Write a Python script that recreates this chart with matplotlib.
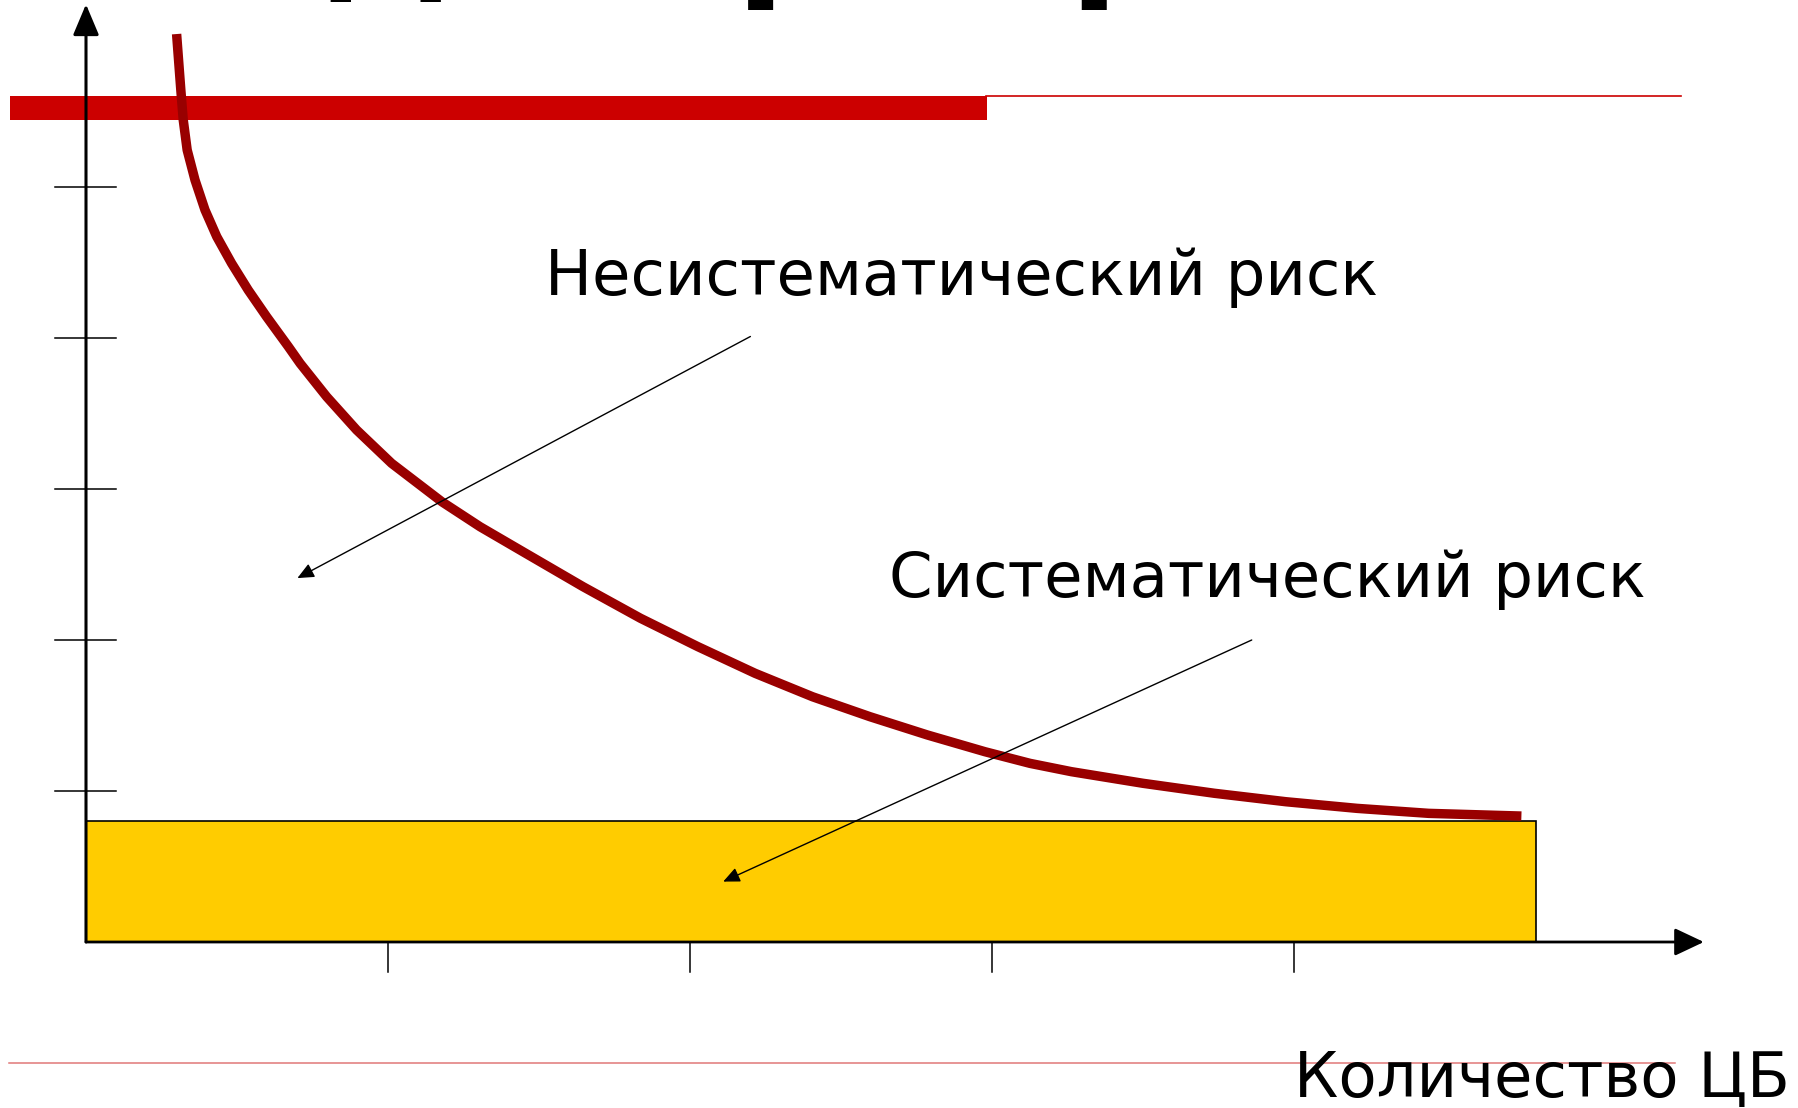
import matplotlib
matplotlib.use("Agg")
import matplotlib.pyplot as plt

# --- data (units = tick spacing on each axis) ---
X_TICKS = [1, 2, 3, 4]
Y_TICKS = [1, 2, 3, 4, 5]

# unsystematic risk curve
CURVE_X = [0.30, 0.314, 0.322, 0.335, 0.361, 0.394, 0.433, 0.482, 0.537,
           0.598, 0.670, 0.709, 0.797, 0.896, 1.012, 1.178, 1.305, 1.456,
           1.646, 1.836, 2.026, 2.216, 2.406, 2.596, 2.786, 2.977, 3.126,
           3.263, 3.500, 3.736, 3.973, 4.209, 4.446, 4.753]
CURVE_Y = [6.013, 5.642, 5.444, 5.245, 5.046, 4.848, 4.671, 4.495, 4.318,
           4.141, 3.943, 3.832, 3.611, 3.391, 3.170, 2.916, 2.750, 2.574,
           2.353, 2.144, 1.956, 1.779, 1.624, 1.492, 1.371, 1.260, 1.183,
           1.128, 1.051, 0.985, 0.929, 0.885, 0.852, 0.834]

# systematic risk block
SYS_WIDTH = 4.8
SYS_HEIGHT = 0.8

LABEL_UNSYS = "Несистематический риск"
LABEL_SYS = "Систематический риск"
LABEL_X = "Количество ЦБ"
TITLE = "Диверсификация"

# arrows: (start, end)
ARROW_UNSYS = ((2.20, 4.01), (0.70, 2.41))
ARROW_SYS = ((3.86, 2.00), (2.11, 0.40))

# --- figure ---
W, H = 1799, 1108
fig = plt.figure(figsize=(W / 100, H / 100), dpi=100)
ax = fig.add_axes([0, 0, 1, 1])
ax.set_xlim(-86 / 302, (W - 86) / 302)
ax.set_ylim(-(H - 942) / 151, 942 / 151)
ax.axis("off")

# cropped slide title (only descenders are visible)
fig.text(321 / W, 1 + 20 / H, TITLE, fontsize=103, fontweight="bold",
         color="black", ha="left", va="baseline")

# slide decoration lines
ax.barh(5.5235, 3.235, height=0.159, left=-0.252, color="#cc0000", zorder=2)
ax.plot([2.98, 5.28], [5.60, 5.60], color="#cc0000", lw=1.2, zorder=2)
ax.plot([-0.255, 5.26], [-0.80, -0.80], color="#e07878", lw=1.1, zorder=1)

# systematic risk block
ax.bar(0, SYS_HEIGHT, width=SYS_WIDTH, align="edge", color="#ffcc00",
       edgecolor="black", lw=1.2, zorder=3)

# curve
ax.plot(CURVE_X, CURVE_Y, color="#990000", lw=6.8, zorder=4,
        solid_capstyle="butt", solid_joinstyle="round")

# axes with arrow heads
ax.annotate("", xy=(0, 6.21), xytext=(0, 0),
            arrowprops=dict(arrowstyle="-|>,head_length=19,head_width=8",
                            mutation_scale=1, lw=2.2, color="black",
                            shrinkA=0, shrinkB=0), zorder=5)
ax.annotate("", xy=(5.357, 0), xytext=(0, 0),
            arrowprops=dict(arrowstyle="-|>,head_length=18,head_width=8.5",
                            mutation_scale=1, lw=2.0, color="black",
                            shrinkA=0, shrinkB=0), zorder=5)

for t in Y_TICKS:
    ax.plot([-0.103, 0.099], [t, t], color="black", lw=1.1, zorder=5)
for t in X_TICKS:
    ax.plot([t, t], [0, -0.2], color="black", lw=1.1, zorder=5)

# pointer arrows
for (start, end) in (ARROW_UNSYS, ARROW_SYS):
    ax.annotate("", xy=end, xytext=start,
                arrowprops=dict(arrowstyle="-|>,head_length=10,head_width=4.5",
                                mutation_scale=1, lw=1.0, color="black",
                                shrinkA=0, shrinkB=0), zorder=6)

# labels
ax.text((545 - 86) / 302, (942 - 295) / 151, LABEL_UNSYS, fontsize=45,
        ha="left", va="baseline", color="black", zorder=7)
ax.text((889 - 86) / 302, (942 - 597) / 151, LABEL_SYS, fontsize=45,
        ha="left", va="baseline", color="black", zorder=7)
ax.text((1294 - 86) / 302, (942 - 1097) / 151, LABEL_X, fontsize=45,
        ha="left", va="baseline", color="black", zorder=7)

fig.savefig("out.png", dpi=100)
